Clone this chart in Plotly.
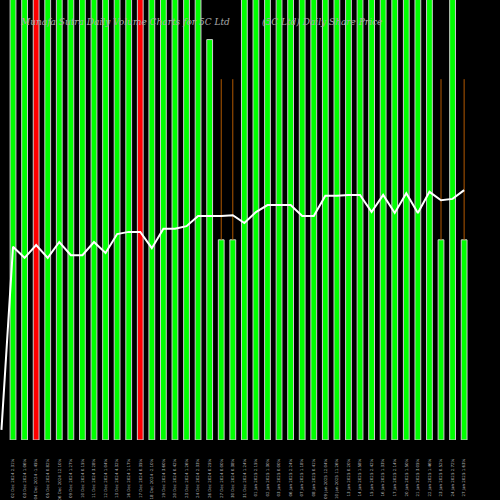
import plotly.graph_objects as go

labels = ["02 Dec 2024 2.31%","03 Dec 2024 1.06%","04 Dec 2024 -1.45%","05 Dec 2024 0.82%","06 Dec 2024 12.10%",
"09 Dec 2024 1.27%","10 Dec 2024 0.15%","11 Dec 2024 3.28%","12 Dec 2024 1.04%","13 Dec 2024 4.32%",
"16 Dec 2024 1.17%","17 Dec 2024 0.35%","18 Dec 2024 -2.10%","19 Dec 2024 3.60%","20 Dec 2024 0.42%",
"23 Dec 2024 1.26%","24 Dec 2024 2.33%","26 Dec 2024 0.25%","27 Dec 2024 0.00%","30 Dec 2024 0.38%",
"31 Dec 2024 1.24%","01 Jan 2025 2.15%","02 Jan 2025 1.30%","03 Jan 2025 0.00%","06 Jan 2025 2.24%",
"07 Jan 2025 1.18%","08 Jan 2025 0.41%","09 Jan 2025 12.04%","10 Jan 2025 11.26%","13 Jan 2025 0.20%",
"14 Jan 2025 1.58%","15 Jan 2025 2.42%","16 Jan 2025 1.33%","17 Jan 2025 2.14%","20 Jan 2025 1.50%",
"21 Jan 2025 3.05%","22 Jan 2025 1.46%","23 Jan 2025 0.52%","24 Jan 2025 2.72%","27 Jan 2025 1.63%"]
volume = [120]*40
for i in (17,): volume[i] = 91
for i in (18, 19, 37, 39): volume[i] = 45.5
bar_colors = ["#00ff00"]*40
bar_colors[2] = "#ff0000"; bar_colors[11] = "#ff0000"
wick_top = {18: 82, 19: 82, 37: 82, 39: 82}
price = [43.9,41.4,44.3,41.4,45.0,42.0,42.0,45.0,42.5,46.8,47.3,47.3,43.6,48.0,48.0,48.6,50.9,50.9,50.9,51.1,
49.3,51.8,53.4,53.4,53.4,50.9,50.9,55.5,55.5,55.7,55.7,51.8,55.7,51.6,56.1,51.6,56.4,54.5,54.8,56.8]
price_start = 2.3

x = list(range(40))
fig = go.Figure()
fig.add_bar(x=x, y=volume, width=0.5, marker=dict(color=bar_colors, line=dict(color="#cccccc", width=1)))
wx, wy = [], []
for i, t in wick_top.items():
    wx += [i, i, None]; wy += [volume[i], t, None]
fig.add_scatter(x=wx, y=wy, mode="lines", line=dict(color="#b35900", width=1))
fig.add_scatter(x=[-1] + x, y=[price_start] + price, mode="lines", line=dict(color="white", width=2))
fig.update_layout(width=500, height=500, showlegend=False, paper_bgcolor="black", plot_bgcolor="black",
    margin=dict(l=0, r=0, t=0, b=60, pad=0),
    xaxis=dict(range=[-1.125, 42.1], tickvals=x, ticktext=labels, tickangle=-90, showgrid=False, zeroline=False,
               automargin=False, ticks="outside", ticklen=16, tickcolor="black",
               tickfont=dict(size=4, color="#bbbbbb", family="DejaVu Sans")),
    yaxis=dict(range=[0, 100], visible=False, automargin=False))
fig.add_annotation(text="Munafa Sutra Daily Volume Charts for 5C Ltd", x=18/500)
fig.add_annotation(text="(5C Ltd) Daily Share Price", x=260/500)
fig.update_annotations(xref="paper", yref="paper", showarrow=False, xanchor="left", yanchor="middle",
                       y=1-22/440, font=dict(size=9, color="#aaaaaa", family="DejaVu Serif", style="italic"))
fig.write_html("out.html", config={"displayModeBar": False},
               post_script="document.body.style.margin='0';document.body.style.background='black';")
